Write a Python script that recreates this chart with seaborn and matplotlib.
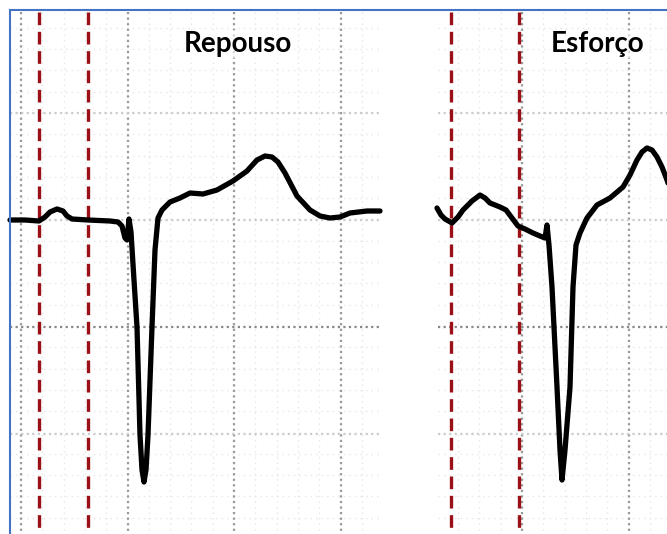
import numpy as np
import seaborn as sns
import matplotlib.pyplot as plt

# ECG traces (pixel coordinates, y grows downward)
repouso_x = [10, 25, 39, 45, 50, 57, 63, 67, 72, 88, 110, 118, 122, 125, 127, 129, 131,
             134, 137, 140, 142, 144, 146, 148, 152, 155, 158, 162, 170, 180, 190, 203,
             217, 233, 247, 257, 265, 272, 278, 285, 297, 310, 320, 330, 340, 350, 367, 380]
repouso_y = [220, 220, 221, 217, 212, 209, 211, 216, 219, 220, 221, 222, 226, 238, 240, 219, 232,
             280, 327, 435, 470, 482, 470, 435, 327, 250, 218, 210, 202, 198, 193, 194,
             190, 181, 171, 160, 156, 157, 162, 173, 196, 210, 216, 218, 217, 213, 211, 211]

esforco_x = [437, 441, 445, 452, 458, 463, 472, 480, 485, 490, 500, 506, 512, 518, 525, 533,
             540, 545, 547, 549, 552, 557, 560, 562, 565, 570, 573, 576, 580, 587, 597, 610,
             623, 630, 637, 642, 647, 652, 657, 662, 667, 672]
esforco_y = [208, 215, 219, 223, 217, 210, 201, 195, 198, 203, 207, 210, 218, 226, 229, 233,
             236, 238, 225, 245, 287, 387, 450, 480, 450, 387, 287, 245, 233, 218, 205, 198,
             187, 175, 160, 152, 148, 150, 157, 167, 180, 195]

titulos = ["Repouso", "Esforço"]
titulo_x = [238, 598]

# panels: (left, right, first major vertical grid line)
paineis = [(10, 380, 21), (438, 667, 522)]
marcas_x = [39, 88, 451, 519]
grade_h = [113, 220, 327, 434]

W, H = 667, 534
fig = plt.figure(figsize=(W / 100, H / 100), dpi=100)
ax = fig.add_axes([0, 0, 1, 1])
sns.set_style("white")
ax.set_xlim(0, W)
ax.set_ylim(H, 0)
ax.axis("off")

passo = 106.5
for esq, dir_, x0 in paineis:
    # minor grid
    for k in range(-10, 20):
        xv = x0 + k * passo / 5
        if esq < xv < dir_:
            ax.vlines(xv, 12, H, color="#e6e6e6", lw=1, linestyle=(0, (1, 3)), zorder=1)
    for k in range(-10, 30):
        yh = grade_h[0] + k * passo / 5
        if 12 < yh < H:
            ax.hlines(yh, esq, dir_, color="#e6e6e6", lw=1, linestyle=(0, (1, 3)), zorder=1)
    # major grid
    for k in range(-2, 6):
        xv = x0 + k * passo
        if esq < xv < dir_:
            ax.vlines(xv, 12, H, color="#9a9a9a", lw=1.6, linestyle=(0, (1, 1.5)), zorder=2)
    for yh in grade_h:
        c = "#888888" if yh == 327 else "#cccccc"
        ax.hlines(yh, esq, dir_, color=c, lw=1.6, linestyle=(0, (1, 1.5)), zorder=2)

for xm in marcas_x:
    ax.vlines(xm, 12, H, color="#9a1016", lw=2.4, linestyle=(0, (3.8, 2.0)), zorder=3)

for xs, ys in [(repouso_x, repouso_y), (esforco_x, esforco_y)]:
    sns.lineplot(x=xs, y=ys, sort=False, estimator=None, color="black", lw=3.8, ax=ax,
                 zorder=4, solid_joinstyle="round", solid_capstyle="round")

for t, xt in zip(titulos, titulo_x):
    ax.text(xt, 44, t, ha="center", va="center", fontsize=20, fontweight="bold",
            family="Lato", color="black", zorder=5,
            bbox=dict(facecolor="white", edgecolor="none", pad=1, alpha=0.6))

# blue frame (left and top edges)
ax.plot([9.5, 9.5, W + 5], [H + 5, 10, 10], color="#4472c4", lw=1.5, zorder=6,
        solid_joinstyle="miter")

fig.savefig("out.png", dpi=100)
